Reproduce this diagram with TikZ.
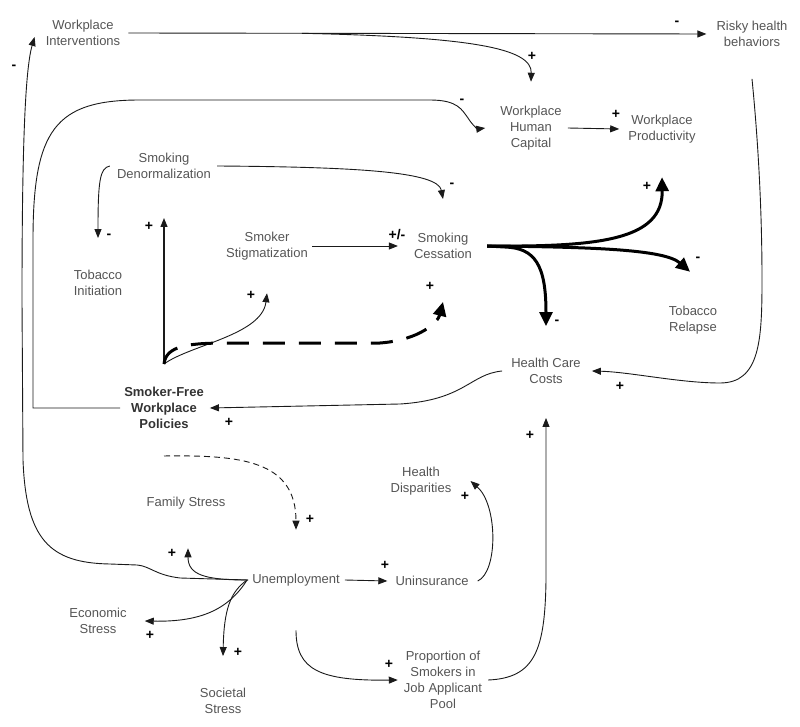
\documentclass[tikz,border=0pt]{standalone}
\usepackage{fontspec}
\setmainfont{Liberation Sans}
\usetikzlibrary{arrows.meta}
\definecolor{txt}{HTML}{555555}
\definecolor{ln}{HTML}{1A1A1A}
\begin{document}
\begin{tikzpicture}[x=1pt,y=-1pt,
  lbl/.style={text=txt,font=\fontsize{13}{16}\selectfont,align=center,inner sep=0pt},
  boldlbl/.style={lbl,text=black!80,font=\fontsize{13}{16}\selectfont\bfseries},
  sgn/.style={font=\fontsize{14}{16}\selectfont\bfseries,inner sep=0pt},
  arr/.style={draw=ln,line width=0.9pt,-{Triangle[length=9pt,width=7pt]}},
  dasharr/.style={arr,dash pattern=on 6pt off 4pt},
  bigarr/.style={draw=black,line width=3pt,-{Triangle[length=14pt,width=13pt]}},
  bigdash/.style={bigarr,dash pattern=on 22pt off 14pt}]
\useasboundingbox (0,0) rectangle (800,727);

% nodes
\node[lbl] (wi) at (83,33) {Workplace\\Interventions};
\node[lbl] (rhb) at (752,34) {Risky health\\behaviors};
\node[lbl] (whc) at (531,128) {Workplace\\Human\\Capital};
\node[lbl] (wp) at (662,129) {Workplace\\Productivity};
\node[lbl] (sd) at (164,166) {Smoking\\Denormalization};
\node[lbl] (ti) at (98,283) {Tobacco\\Initiation};
\node[lbl] (ss) at (267,246) {Smoker\\Stigmatization};
\node[lbl] (sc) at (443,246) {Smoking\\Cessation};
\node[boldlbl] (sfwp) at (164,408) {Smoker-Free\\Workplace\\Policies};
\node[lbl] (hcc) at (546,371) {Health Care\\Costs};
\node[lbl] (tr) at (693,320) {Tobacco\\Relapse};
\node[lbl] (fs) at (186,503) {Family Stress};
\node[lbl] (un) at (296,580) {Unemployment};
\node[lbl] (uni) at (432,581) {Uninsurance};
\node[lbl] (hd) at (421,481) {Health\\Disparities};
\node[lbl] (es) at (98,621) {Economic\\Stress};
\node[lbl] (sst) at (223,701) {Societal\\Stress};
\node[lbl] (pjap) at (443,680) {Proportion of\\Smokers in\\Job Applicant\\Pool};

\coordinate (hub) at (164,364);
\coordinate (upend) at (164,218);

% top line
\draw[arr] ([xshift=8pt]wi.east) -- ([xshift=-10pt]rhb.west);
\path ([xshift=8pt]wi.east) -- ([xshift=-10pt]rhb.west) coordinate[pos=0.3] (br);
\draw[arr] (br) .. controls (470,37) and (532,48) .. ([yshift=24pt]whc.north);

% big loop from policies to human capital
\draw[arr] ([xshift=-4pt]sfwp.west) -- (33,408) -- (33,240)
  .. controls (33,130) and (55,100) .. (140,100) -- (430,100)
  .. controls (458,100) and (462,110) .. (468,118)
  .. controls (473,126) and (478,129) .. ([xshift=-15pt]whc.west);

\draw[arr] ([xshift=6pt]whc.east) -- ([xshift=-9pt]wp.west);

% denormalization
\draw[arr] ([xshift=6pt]sd.east) .. controls (360,167) and (438,172) .. ([yshift=34pt]sc.north);
\draw[arr] ([xshift=-7pt]sd.west) .. controls (100,168) and (98,180) .. ([yshift=32pt]ti.north);

% hub
\draw[arr,line width=1.2pt] (hub) -- (upend);
\draw[arr] (hub) .. controls (190,345) and (262,335) .. ([yshift=-33pt]ss.south);
\draw[bigdash] (hub) .. controls (166,345) and (190,343) .. (230,343) -- (380,343)
  .. controls (420,340) and (438,322) .. ([yshift=-43pt]sc.south);

\draw[arr] ([xshift=4pt]ss.east) -- ([xshift=-16pt]sc.west);

% health care costs to policies
\draw[arr] ([xshift=-9pt]hcc.west) .. controls (470,374) and (465,400) .. (400,404) -- ([xshift=6pt]sfwp.east);

% risky behaviors to health care costs
\draw[arr] ([yshift=-32pt]rhb.south) .. controls (760,160) and (762,230) .. (762,280)
  .. controls (762,340) and (760,383) .. (720,383)
  .. controls (680,383) and (630,372) .. ([xshift=11pt]hcc.east);

% thick arrows from cessation
\draw[bigarr] ([xshift=15pt]sc.east) .. controls (600,247) and (663,240) .. ([yshift=-34pt]wp.south);
\draw[bigarr] ([xshift=15pt]sc.east) .. controls (600,247) and (665,250) .. ([xshift=-3pt,yshift=34pt]tr.north);
\draw[bigarr] ([xshift=15pt]sc.east) -- (505,247) .. controls (535,248) and (546,265) .. ([yshift=32pt]hcc.north);

% policies to unemployment
\draw[dasharr] ([yshift=-27pt]sfwp.south) .. controls (240,455) and (296,460) .. ([yshift=44pt]un.north);

% unemployment outgoing
\draw[arr] ([xshift=-4pt]un.west) .. controls (205,580) and (188,575) .. ([xshift=2pt,yshift=-39pt]fs.south);
\draw[arr] ([xshift=-4pt]un.west) -- (180,578)
  .. controls (155,575) and (150,566) .. (137,565) -- (110,564)
  .. controls (50,563) and (26,540) .. (23,460) -- (22,300)
  .. controls (22,150) and (25,70) .. ([xshift=-11pt,yshift=-4pt]wi.west);
\draw[arr] ([xshift=-5pt]un.west) .. controls (228,610) and (200,622) .. ([xshift=18pt]es.east);
\draw[arr] ([xshift=-5pt]un.west) .. controls (230,592) and (224,610) .. ([yshift=32pt]sst.north);
\draw[arr] ([xshift=5pt]un.east) -- ([xshift=-8pt]uni.west);
\draw[arr] ([xshift=9pt]uni.east) .. controls (498,572) and (498,505) .. ([xshift=19pt]hd.east);
\draw[arr] ([yshift=-44pt]un.south) .. controls (296,670) and (320,681) .. ([xshift=-6pt]pjap.west);
\draw[arr] ([xshift=6pt]pjap.east) .. controls (535,678) and (545,650) .. (546,580) -- ([yshift=-34pt]hcc.south);

% signs
\node[sgn] (s1) at (677,23) {-};
\node[sgn] (s2) at (532,56) {+};
\node[sgn] (s3) at (462,101) {-};
\node[sgn] (s4) at (616,114) {+};
\node[sgn] (s5) at (452,185) {-};
\node[sgn] (s6) at (109,236) {-};
\node[sgn] (s7) at (149,226) {+};
\node[sgn] (s8) at (397,235) {+/-};
\node[sgn] (s9) at (647,186) {+};
\node[sgn] (s10) at (698,259) {-};
\node[sgn] (s11) at (557,322) {-};
\node[sgn] (s12) at (251,295) {+};
\node[sgn] (s13) at (430,286) {+};
\node[sgn] (s14) at (229,422) {+};
\node[sgn] (s15) at (620,386) {+};
\node[sgn] (s16) at (530,435) {+};
\node[sgn] (s17) at (310,519) {+};
\node[sgn] (s18) at (465,496) {+};
\node[sgn] (s19) at (172,553) {+};
\node[sgn] (s20) at (385,565) {+};
\node[sgn] (s21) at (150,635) {+};
\node[sgn] (s22) at (238,652) {+};
\node[sgn] (s23) at (389,664) {+};
\node[sgn] (s24) at (14,67) {-};
\end{tikzpicture}
\end{document}
